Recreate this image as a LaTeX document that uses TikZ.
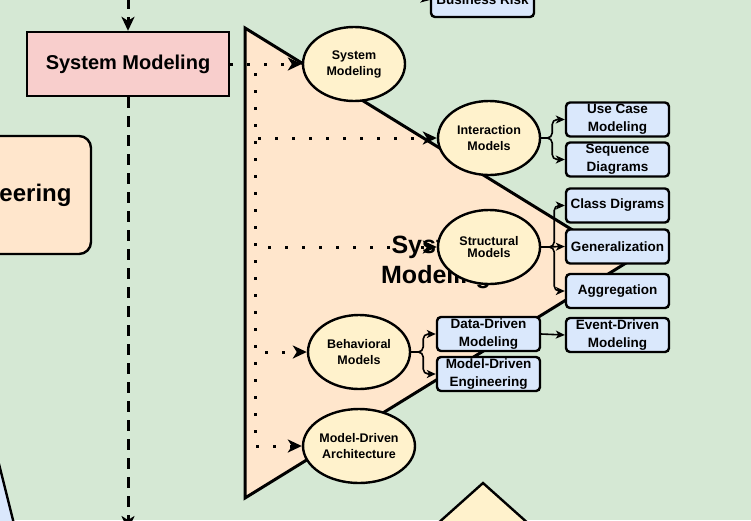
\documentclass[tikz,border=0pt]{standalone}
\usepackage{fontspec}
\setmainfont{Liberation Sans}
\usetikzlibrary{shapes.geometric,arrows.meta}
\definecolor{bggreen}{HTML}{D5E8D4}
\definecolor{pinkf}{HTML}{F8CECC}
\definecolor{peach}{HTML}{FFE6CC}
\definecolor{yel}{HTML}{FFF2CC}
\definecolor{blu}{HTML}{DAE8FC}
\tikzset{
 ell/.style={ellipse, draw, line width=2.4pt, fill=yel, minimum width=102pt, minimum height=74pt, inner sep=0pt, align=center, font=\fontsize{12.5}{16}\selectfont\bfseries},
 bbox/.style={rectangle, rounded corners=4pt, draw, line width=2.4pt, fill=blu, minimum width=103pt, minimum height=34pt, inner sep=0pt, align=center, font=\fontsize{13.5}{18}\selectfont\bfseries},
 dotc/.style={line width=3pt, dash pattern=on 3pt off 14pt, -{Stealth[length=14pt,width=13pt,inset=4pt]}},
 dashc/.style={line width=3pt, dash pattern=on 11pt off 8pt, -{Stealth[length=14pt,width=13pt,inset=4pt]}},
 conn/.style={line width=1.6pt, rounded corners=5pt, -{Stealth[length=9pt,width=8pt,inset=2.5pt]}},
}
\begin{document}
\begin{tikzpicture}[x=1pt,y=-1pt]
\useasboundingbox (0,0) rectangle (751,520);
\clip (0,0) rectangle (751,520);
\fill[bggreen] (0,0) rectangle (751,520);
% left peach box (clipped)
\node[draw, line width=2.4pt, fill=peach, rounded corners=12pt, minimum width=111pt, minimum height=118pt, inner sep=0pt, font=\fontsize{24}{28}\selectfont\bfseries] (eng) at (35.5,195) {eering};
% bottom-left blue shape
\fill[blu] (-5,448) -- (14,524) -- (-5,524) -- cycle;
\draw[line width=2.4pt] (-5,448) -- (14,524);
% bottom diamond
\draw[line width=2.4pt, fill=yel] (483,483) -- (530,525) -- (483,567) -- (436,525) -- cycle;
% Business Risk
\node[bbox] (br) at (482.5,0) {Business Risk};
\coordinate (brsrc) at (405,-4);
\draw[conn] (brsrc) -- (br.west);
% System Modeling box
\node[draw, line width=2.4pt, fill=pinkf, minimum width=202pt, minimum height=64pt, inner sep=0pt, font=\fontsize{20}{24}\selectfont\bfseries] (smb) at (128,64) {System Modeling};
\coordinate (topin) at (128,-2);
\coordinate (botout) at (128,530);
\draw[dashc] (topin) -- (smb.north);
\draw[dashc] (smb.south) -- (botout);
% triangle
\draw[line width=3pt, fill=peach, line join=miter] (245,28) -- (626,263) -- (245,498) -- cycle;
\node[font=\fontsize{25}{30}\selectfont\bfseries, align=center] (big) at (436,262) {System\\Modeling};
% ellipses
\node[ell] (sme) at (354,64) {System\\Modeling};
\node[ell] (ime) at (489,138) {Interaction\\Models};
\node[ell, font=\fontsize{12.5}{12.5}\selectfont\bfseries] (ste) at (489,247) {Structural\\Models};
\node[ell] (bhe) at (359,352) {Behavioral\\Models};
\node[ell] (mda) at (359,446) {Model-Driven\\Architecture};
% boxes
\node[bbox] (uc) at (617.5,119.5) {Use Case\\Modeling};
\node[bbox] (sd) at (617.5,159.5) {Sequence\\Diagrams};
\node[bbox] (cd) at (617.5,205.5) {Class Digrams};
\node[bbox] (gen) at (617.5,246.5) {Generalization};
\node[bbox] (agg) at (617.5,291) {Aggregation};
\node[bbox] (edm) at (617.5,335) {Event-Driven\\Modeling};
\node[bbox] (ddm) at (488.5,334) {Data-Driven\\Modeling};
\node[bbox] (mde) at (488.5,374) {Model-Driven\\Engineering};
% dotted connectors
\draw[dotc] (smb.east) -- (sme.west);
\draw[dotc] (smb.east) -- ++(25,0) |- (ime.west);
\draw[dotc] (smb.east) -- ++(25,0) |- (ste.west);
\draw[dotc] (smb.east) -- ++(25,0) |- (bhe.west);
\draw[dotc] (smb.east) -- ++(25,0) |- (mda.west);
% solid connectors
\draw[conn] (ime.east) -- ++(11,0) |- (uc.west);
\draw[conn] (ime.east) -- ++(11,0) |- (sd.west);
\draw[conn] (ste.east) -- ++(13,0) |- (cd.west);
\draw[conn] (ste.east) -- (gen.west);
\draw[conn] (ste.east) -- ++(13,0) |- (agg.west);
\draw[conn] (bhe.east) -- ++(12,0) |- (ddm.west);
\draw[conn] (bhe.east) -- ++(12,0) |- (mde.west);
\draw[conn] (ddm.east) -- (edm.west);
\end{tikzpicture}
\end{document}
